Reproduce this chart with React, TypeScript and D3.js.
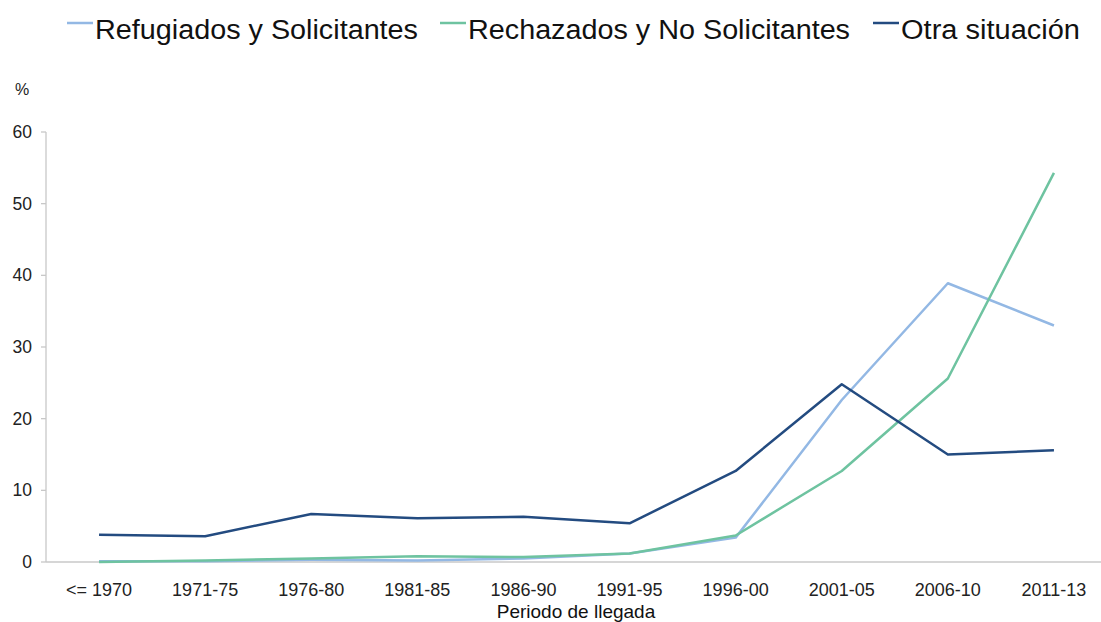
import React from 'react'
import * as d3 from 'd3'

const periods = ['<= 1970', '1971-75', '1976-80', '1981-85', '1986-90', '1991-95', '1996-00', '2001-05', '2006-10', '2011-13']
const refugiados = [0.1, 0.1, 0.3, 0.2, 0.5, 1.2, 3.4, 22.6, 38.9, 33.0]
const rechazados = [0.0, 0.2, 0.5, 0.8, 0.7, 1.2, 3.7, 12.7, 25.6, 54.3]
const otra = [3.8, 3.6, 6.7, 6.1, 6.3, 5.4, 12.7, 24.8, 15.0, 15.6]
const yTicks = [0, 10, 20, 30, 40, 50, 60]

const seriesNames = ['Refugiados y Solicitantes', 'Rechazados y No Solicitantes', 'Otra situación']
const seriesColors = ['#93b8e4', '#6ec3a0', '#234b80']
const seriesData = [refugiados, rechazados, otra]

// legend layout (swatch start, text width as measured on the reference)
const legendX = [67, 440, 873]
const legendW = [323, 382, 179]

export default function App() {
  const width = 1101,
    height = 622

  const xScale = d3.scaleBand()
    .domain(periods)
    .range([46, 46 + 106.1 * periods.length])

  const yScale = d3.scaleLinear()
    .domain([0, 60])
    .range([562, 132])

  const line = d3.line<number>()
    .x((d, i) => xScale(periods[i])! + xScale.bandwidth() / 2)
    .y(d => yScale(d))

  const font = '"Liberation Sans", Arial, Helvetica, sans-serif'

  return (
    <svg width={width} height={height} style={{position: 'absolute', left: 0, top: 0}} fontFamily={font}>
      {/* legend */}
      {seriesNames.map((name, i) => (
        <g key={name}>
          <line x1={legendX[i]} x2={legendX[i] + 26} y1={23} y2={23} stroke={seriesColors[i]} strokeWidth={2.5}/>
          <text x={legendX[i] + 28} y={39} fontSize={27} fill="#111"
            textLength={legendW[i]} lengthAdjust="spacingAndGlyphs">{name}</text>
        </g>
      ))}

      <text x={22} y={95} fontSize={16} textAnchor="middle" fill="#222">%</text>

      {/* y axis */}
      <line x1={46} x2={46} y1={yScale(60)} y2={yScale(0)} stroke="#c8c8c8" strokeWidth={1.3}/>
      {yTicks.map(t => (
        <g key={t}>
          <line x1={41} x2={46} y1={yScale(t)} y2={yScale(t)} stroke="#c8c8c8" strokeWidth={1.3}/>
          <text x={32} y={yScale(t) + 6} fontSize={17.5} textAnchor="end" fill="#222">{t}</text>
        </g>
      ))}

      {/* x axis */}
      <line x1={46} x2={width} y1={yScale(0)} y2={yScale(0)} stroke="#c8c8c8" strokeWidth={1.3}/>
      {periods.map(p => (
        <text key={p} x={xScale(p)! + xScale.bandwidth() / 2} y={596} fontSize={18} textAnchor="middle" fill="#222">{p}</text>
      ))}
      <text x={576} y={618} fontSize={19} textAnchor="middle" fill="#111">Periodo de llegada</text>

      {seriesData.map((s, i) => (
        <path key={i} d={line(s)!} fill="none" stroke={seriesColors[i]} strokeWidth={2.5} strokeLinejoin="round"/>
      ))}
    </svg>
  )
}
